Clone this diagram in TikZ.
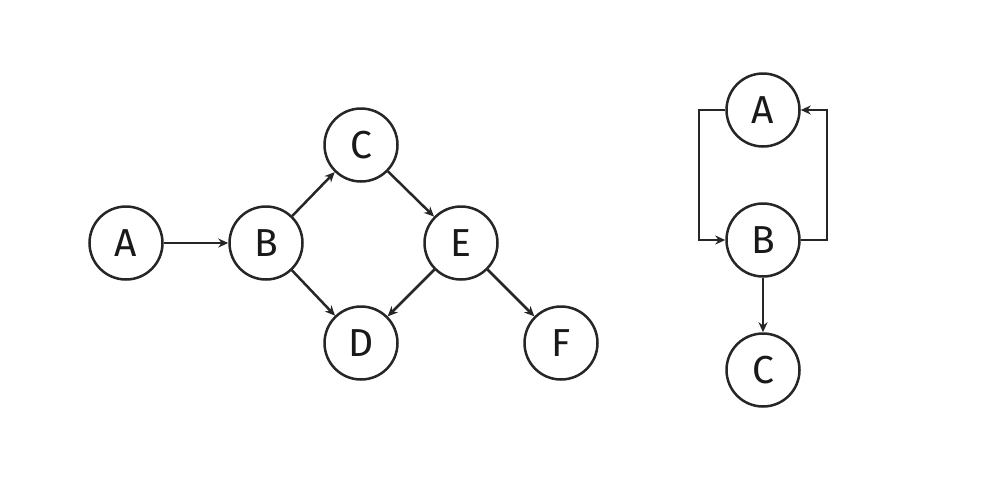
\documentclass[tikz,border=0pt]{standalone}
\usepackage{fontspec}
\setmainfont{Fira Sans}
\usetikzlibrary{arrows.meta}
\begin{document}
\begin{tikzpicture}[x=1pt,y=-1pt,
  vertex/.style={circle,draw=black!85,line width=2.5pt,minimum size=73pt,inner sep=0pt,font=\fontsize{39}{41}\selectfont,text=black!90},
  edge/.style={draw=black!85,line width=2.5pt,-{Stealth[length=10pt,width=9pt]}}]
\useasboundingbox (0,0) rectangle (1006,490);
\node[vertex] (a) at (126,243) {A};
\node[vertex] (b) at (266,243) {B};
\node[vertex] (c) at (361,145) {C};
\node[vertex] (d) at (361,343) {D};
\node[vertex] (e) at (461,243) {E};
\node[vertex] (f) at (561,343) {F};
\draw[edge] (a) -- (b);
\draw[edge] (b) -- (c);
\draw[edge] (b) -- (d);
\draw[edge] (c) -- (e);
\draw[edge] (e) -- (d);
\draw[edge] (e) -- (f);
\node[vertex] (ra) at (763,110) {A};
\node[vertex] (rb) at (763,240) {B};
\node[vertex] (rc) at (763,370) {C};
\draw[edge] (ra.west) -- (699,110) -- (699,240) -- (rb.west);
\draw[edge] (rb.east) -- (827,240) -- (827,110) -- (ra.east);
\draw[edge] (rb) -- (rc);
\end{tikzpicture}
\end{document}
